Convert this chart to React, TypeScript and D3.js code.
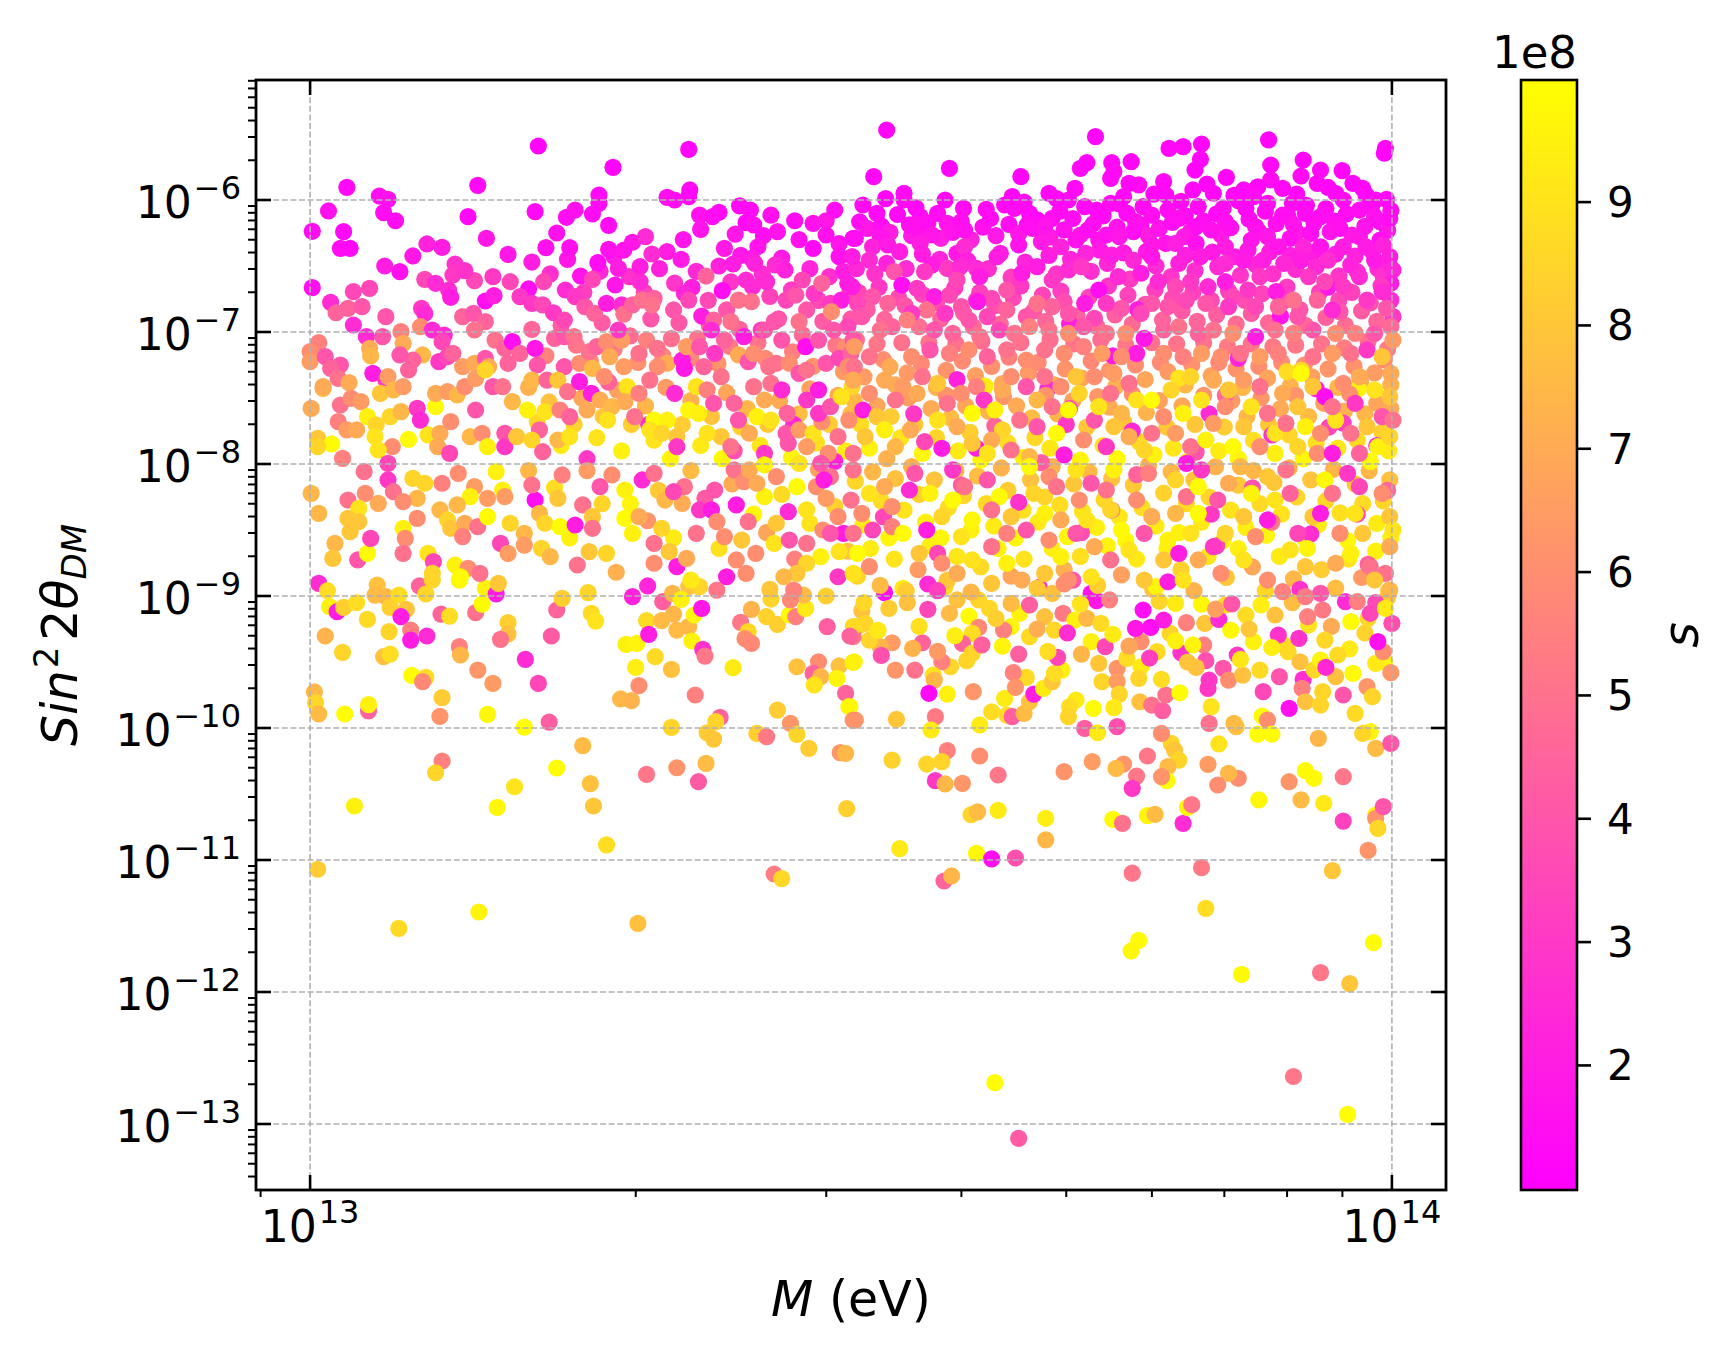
import * as d3 from "d3";

// every point: [log10 M (eV), log10 sin^2(2θ), s / 1e8]
const upperLeft = [
  [13.211,-5.591,1.2],[13.350,-5.616,1.2],[13.280,-5.753,1.2],[13.034,-5.904,1.3],[13.155,-5.889,1.3],[13.064,-5.970,1.5],[13.072,-5.995,1.6],[13.068,-6.096,1.4],
  [13.079,-6.157,1.5],[13.017,-6.083,1.6],[13.002,-6.237,1.4],[13.031,-6.240,1.3],[13.028,-6.366,1.4],[13.037,-6.366,1.3],[13.146,-6.126,1.3],[13.208,-6.088,1.3],
  [13.237,-6.131,1.5],[13.245,-6.076,1.6],[13.261,-6.106,1.4],[13.267,-5.962,1.3],[13.267,-6.025,1.4],[13.276,-6.192,1.5],[13.330,-5.980,1.6],[13.337,-6.000,1.5],
  [13.351,-5.924,1.4],[13.350,-5.975,1.3],[13.360,-6.114,1.6],[13.361,-6.222,1.7],[13.372,-6.126,1.5],[13.378,-6.093,1.4],[13.397,-6.045,1.3],[13.407,-6.076,1.4],
  [13.426,-6.114,1.6],[13.403,-6.172,1.3],[13.410,-6.189,1.5],[13.432,-6.240,1.7],[13.448,-6.157,1.4],[13.465,-6.177,1.6],[13.477,-6.157,1.8],[13.485,-6.076,1.5],
  [13.477,-6.265,1.6],[13.502,-6.290,1.5],[13.393,-6.258,1.8],[13.383,-6.366,1.9],[13.465,-6.366,1.3],[13.414,-6.354,1.7],[13.408,-6.442,1.9],[13.489,-6.429,1.6],
  [13.493,-6.543,2.1],[13.163,-6.290,1.8],[13.183,-6.412,1.8],[13.218,-6.361,1.6],[13.240,-6.361,1.6],[13.108,-6.333,2.2],[13.122,-6.359,2.0],[13.095,-6.424,1.8],
  [13.069,-6.500,2.0],[13.083,-6.543,1.6],[13.002,-6.664,1.5],[13.276,-6.374,1.6],[13.290,-6.379,1.7],[13.266,-6.475,1.4],[13.285,-6.518,2.0],[13.282,-6.644,1.8],
  [13.310,-6.278,2.5],[13.330,-6.391,2.0],[13.316,-6.409,2.5],[13.305,-6.505,2.0],[13.305,-6.619,2.5],[13.366,-6.576,4.5],[13.391,-6.485,2.0],[13.430,-6.492,2.5],
  [13.439,-6.530,2.2],[13.422,-6.619,2.5],[13.455,-6.606,3.5],[13.497,-6.631,2.0],[13.353,-6.662,2.0],[13.346,-6.707,2.3],[13.381,-6.687,1.5],[13.403,-6.606,2.5],
  [13.409,-6.657,2.5],[13.411,-6.480,2.2],[13.250,-6.576,1.7],[13.261,-6.601,3.5],[13.202,-6.674,1.5],[13.216,-6.619,3.5],[13.236,-6.682,2.5],[13.245,-6.732,3.0],
  [13.185,-6.619,3.5],[13.169,-6.581,3.0],[13.152,-6.611,3.5],[13.134,-6.485,2.8],[13.132,-6.568,3.0],[13.143,-6.535,2.8],[13.106,-6.601,3.5],[13.116,-6.631,2.5],
  [13.128,-6.682,2.5],[13.130,-6.737,2.0],[13.162,-6.765,1.5],[13.170,-6.725,2.0],[13.040,-6.694,3.5],[13.055,-6.669,3.5],[13.019,-6.775,2.5],[13.035,-6.821,4.5],
  [13.048,-6.808,4.0],[13.024,-6.854,4.5],[13.040,-6.947,2.5],[13.070,-6.884,4.0],[13.103,-6.821,3.0],[13.106,-6.859,2.5],[13.141,-6.884,4.5],[13.151,-6.859,4.0],
  [13.162,-6.922,4.5],[13.152,-6.985,5.0],[13.194,-6.732,3.0],[13.205,-6.783,3.0],[13.215,-6.795,3.5],[13.225,-6.854,3.0],[13.235,-6.909,3.5],[13.254,-6.808,4.0],
  [13.263,-6.859,4.5],[13.274,-6.783,2.0],[13.288,-6.795,2.5],[13.290,-6.864,5.0],[13.298,-6.795,4.5],[13.307,-6.758,5.0],[13.318,-6.745,4.5],[13.316,-6.795,5.0],
  [13.336,-6.833,4.0],[13.350,-6.758,3.5],[13.362,-6.879,2.0],[13.373,-6.909,4.5],[13.385,-6.833,4.0],[13.396,-6.758,5.0],[13.408,-6.770,5.0],[13.389,-6.922,5.0],
  [13.440,-6.758,3.5],[13.449,-6.720,4.0],[13.459,-6.833,4.0],[13.466,-6.707,3.0],[13.473,-6.631,4.5],[13.481,-6.783,3.0],[13.491,-6.758,2.0],[13.482,-6.846,6.0],
  [13.452,-6.922,5.0],[13.429,-6.922,4.0],[13.417,-6.985,3.0],[13.497,-6.960,3.5],[13.484,-6.985,4.0],[13.458,-7.111,1.5],[13.470,-7.061,4.0],[13.495,-7.111,6.0],
  [13.502,-7.061,4.0],[13.008,-7.081,5.5],[13.000,-7.149,6.0],[13.000,-7.225,6.5],[13.014,-7.187,4.0],[13.028,-7.250,4.0],[13.019,-7.275,4.5],[13.026,-7.351,5.0],
  [13.036,-7.384,7.0],[13.012,-7.427,7.5],[13.052,-7.035,2.5],[13.067,-7.035,4.0],[13.055,-7.124,7.0],[13.056,-7.182,7.5],[13.084,-6.997,5.5],[13.086,-7.086,7.0],
  [13.102,-6.960,6.0],[13.113,-6.985,2.5],[13.124,-7.023,2.5],[13.122,-7.073,3.5],[13.104,-7.174,7.5],[13.095,-7.212,4.5],[13.083,-7.174,4.0],[13.091,-7.288,4.5],
  [13.058,-7.313,2.0],[13.070,-7.364,3.0],[13.119,-7.225,3.0],[13.127,-7.187,3.5],[13.132,-7.162,4.5],[13.141,-7.263,6.5],[13.152,-7.237,7.0],[13.162,-7.199,4.0],
  [13.165,-7.263,7.0],[13.171,-7.061,5.0],[13.180,-7.124,4.5],[13.187,-7.073,1.5],[13.194,-7.162,4.5],[13.183,-7.237,4.5],[13.208,-7.124,1.8],[13.210,-7.250,4.0],
  [13.226,-7.048,4.5],[13.235,-7.035,4.0],[13.244,-7.035,5.0],[13.235,-7.263,4.0],[13.249,-7.237,6.0],[13.258,-7.149,5.0],[13.265,-7.111,4.5],[13.274,-7.073,6.0],
  [13.288,-7.061,6.5],[13.285,-6.985,3.0],[13.277,-7.187,7.0],[13.290,-7.263,6.5],[13.261,-7.275,7.5],[13.272,-7.338,6.0],[13.304,-7.162,5.0],[13.311,-7.061,5.5],
  [13.321,-7.124,5.0],[13.330,-7.237,7.0],[13.321,-7.263,6.0],[13.314,-7.364,5.0],[13.344,-7.212,2.0],[13.348,-7.111,6.5],[13.346,-7.275,1.8],[13.360,-7.111,4.0],
  [13.364,-7.263,4.5],[13.371,-6.985,2.5],[13.374,-7.162,3.0],[13.383,-7.061,4.5],[13.396,-7.174,7.0],[13.405,-7.225,4.0],[13.401,-7.035,2.0],[13.410,-7.162,6.0],
  [13.424,-7.263,5.0],[13.420,-6.985,4.0],[13.436,-7.061,4.0],[13.431,-7.237,5.0],[13.443,-7.237,6.0],[13.452,-7.313,4.0],[13.459,-7.288,5.0],[13.477,-7.237,4.0],
  [13.489,-7.199,3.5],[13.500,-7.162,4.5],[13.497,-7.263,6.0],
  [13.001,-7.578,7.0],[13.012,-7.414,7.0],[13.028,-7.553,5.0],[13.038,-7.503,6.0],[13.047,-7.528,6.5],[13.026,-7.679,5.5],[13.034,-7.742,6.5],[13.043,-7.742,7.0],
  [13.007,-7.806,8.0],[13.020,-7.848,9.8],[13.007,-7.869,8.5],[13.030,-7.957,5.5],[13.053,-7.641,9.5],[13.061,-7.704,8.5],[13.060,-7.793,9.0],[13.065,-7.465,8.0],
  [13.072,-7.338,6.5],[13.077,-7.439,7.5],[13.086,-7.414,6.5],[13.074,-7.641,8.5],[13.084,-7.603,7.5],[13.091,-7.813,9.8],[13.099,-7.578,3.0],[13.102,-7.667,2.5],
  [13.116,-7.566,9.8],[13.109,-7.780,9.0],[13.120,-7.767,7.0],[13.130,-7.679,6.0],[13.118,-7.869,7.0],[13.129,-7.919,3.5],[13.076,-7.869,6.0],[13.063,-7.894,9.0],
  [13.116,-7.465,7.0],[13.127,-7.452,6.5],[13.136,-7.477,7.5],[13.143,-7.414,6.0],[13.153,-7.351,6.5],[13.162,-7.288,8.5],[13.169,-7.414,4.0],[13.178,-7.414,5.0],
  [13.153,-7.591,4.0],[13.148,-7.793,7.5],[13.159,-7.767,6.0],[13.164,-7.869,9.5],[13.180,-7.767,4.0],[13.180,-7.869,3.0],[13.191,-7.793,8.0],[13.187,-7.528,7.5],
  [13.201,-7.591,9.5],[13.205,-7.364,7.5],[13.217,-7.603,9.0],[13.219,-7.364,4.5],[13.229,-7.364,8.0],[13.238,-7.452,5.0],[13.231,-7.591,5.5],[13.240,-7.641,4.5],
  [13.212,-7.742,4.5],[13.205,-7.818,8.5],[13.215,-7.907,4.5],[13.229,-7.818,7.5],[13.240,-7.793,9.0],[13.249,-7.376,2.0],[13.260,-7.465,2.0],[13.256,-7.591,7.0],
  [13.268,-7.515,7.0],[13.279,-7.566,7.5],[13.275,-7.667,9.0],[13.293,-7.414,9.0],[13.291,-7.528,7.0],[13.304,-7.465,5.5],[13.300,-7.641,5.0],[13.318,-7.667,9.8],
  [13.330,-7.667,9.5],[13.314,-7.742,9.0],[13.325,-7.767,8.5],[13.339,-7.793,8.0],[13.339,-7.869,3.0],[13.337,-7.465,2.5],[13.350,-7.591,9.7],[13.359,-7.616,9.5],
  [13.357,-7.414,9.0],[13.367,-7.439,5.5],[13.380,-7.338,5.0],[13.373,-7.540,4.0],[13.392,-7.540,4.5],[13.396,-7.667,4.0],[13.380,-7.793,8.0],[13.367,-7.767,9.0],
  [13.389,-7.869,5.0],[13.406,-7.767,7.0],[13.413,-7.641,9.5],[13.420,-7.515,7.0],[13.410,-7.414,5.0],[13.426,-7.389,5.0],[13.436,-7.439,2.5],[13.441,-7.616,4.5],
  [13.426,-7.667,9.0],[13.440,-7.767,4.0],[13.452,-7.742,6.5],[13.465,-7.767,9.0],[13.473,-7.679,6.0],[13.459,-7.515,3.0],[13.470,-7.439,2.0],[13.470,-7.616,3.0],
  [13.481,-7.566,4.0],[13.491,-7.490,9.0],[13.498,-7.667,6.0],[13.502,-7.364,7.0],[13.488,-7.793,5.0],[13.479,-7.919,6.0],[13.459,-7.869,6.5],[13.442,-7.843,4.0],
  [13.420,-7.919,3.0],[13.452,-7.995,9.0],[13.472,-7.995,4.0],
  [13.001,-8.222,7.5],[13.008,-8.374,7.5],[13.050,-8.058,5.0],[13.072,-7.995,3.5],[13.072,-8.121,3.0],[13.077,-8.210,5.0],[13.095,-8.109,8.5],[13.106,-8.146,8.5],
  [13.122,-8.146,5.5],[13.137,-8.071,6.0],[13.152,-8.172,6.5],[13.172,-8.058,9.5],[13.178,-8.197,9.5],[13.180,-8.247,6.5],[13.164,-8.260,6.5],[13.148,-8.247,9.5],
  [13.136,-8.310,7.5],[13.120,-8.348,7.5],[13.099,-8.260,7.5],[13.086,-8.285,6.0],[13.063,-8.298,7.0],[13.051,-8.222,6.0],[13.035,-8.273,5.0],[13.045,-8.336,9.0],
  [13.035,-8.412,8.0],[13.045,-8.437,8.0],[13.037,-8.513,8.0],[13.023,-8.601,7.5],[13.021,-8.715,8.0],[13.044,-8.727,4.0],[13.053,-8.677,9.8],[13.056,-8.563,3.5],
  [13.086,-8.487,9.5],[13.088,-8.563,6.0],[13.086,-8.677,5.0],[13.099,-8.412,6.0],[13.109,-8.677,9.0],[13.114,-8.740,3.5],[13.113,-8.828,8.5],[13.127,-8.424,8.5],
  [13.130,-8.487,8.0],[13.143,-8.449,7.0],[13.155,-8.475,5.0],[13.141,-8.550,5.5],[13.134,-8.765,9.5],[13.146,-8.790,6.0],[13.157,-8.828,5.0],[13.139,-8.854,9.8],
  [13.164,-8.399,9.8],[13.176,-8.601,3.5],[13.183,-8.677,6.5],[13.185,-8.449,8.5],[13.198,-8.525,7.5],[13.198,-8.614,6.5],[13.208,-8.273,1.5],[13.212,-8.374,7.5],
  [13.217,-8.449,8.5],[13.229,-8.260,8.0],[13.233,-8.083,5.5],[13.205,-8.159,5.0],[13.214,-8.639,8.5],[13.222,-8.702,7.5],[13.231,-8.475,9.8],[13.245,-8.462,2.0],
  [13.252,-8.310,5.0],[13.261,-8.399,8.0],[13.261,-8.487,5.0],[13.247,-8.765,5.0],[13.258,-8.664,8.0],[13.274,-8.677,8.5],[13.268,-8.172,4.0],[13.279,-8.083,6.0],
  [13.291,-8.197,9.5],[13.291,-8.412,9.8],[13.298,-8.525,9.5],[13.304,-8.399,7.0],[13.307,-8.121,2.5],[13.318,-8.071,5.0],[13.318,-8.601,5.0],[13.325,-8.487,8.5],
  [13.332,-8.664,8.0],[13.318,-8.752,6.0],[13.328,-8.273,7.5],[13.344,-8.298,7.0],[13.346,-8.172,5.0],[13.336,-8.210,3.5],[13.339,-8.778,2.0],[13.348,-8.715,7.0],
  [13.357,-8.525,5.0],[13.360,-8.348,3.0],[13.371,-8.348,2.0],[13.374,-8.197,4.0],[13.376,-8.437,6.0],[13.383,-8.550,6.0],[13.394,-8.310,2.0],[13.399,-8.576,8.0],
  [13.405,-8.437,5.0],[13.412,-8.677,6.0],[13.394,-8.727,6.0],[13.403,-8.828,6.0],[13.385,-8.854,2.0],[13.392,-8.045,5.0],[13.401,-8.134,6.0],[13.406,-8.045,7.0],
  [13.420,-8.007,9.5],[13.420,-8.247,9.5],[13.413,-8.146,7.0],[13.431,-8.096,6.0],[13.442,-8.361,2.5],[13.431,-8.449,8.0],[13.429,-8.601,9.0],[13.443,-8.576,4.0],
  [13.459,-8.601,5.0],[13.459,-8.348,9.0],[13.450,-8.172,9.8],[13.468,-8.172,6.0],[13.481,-8.096,5.0],[13.475,-8.121,2.0],[13.477,-8.260,6.5],[13.488,-8.399,6.0],
  [13.474,-8.500,6.0],[13.493,-8.525,2.0],[13.481,-8.525,4.0],[13.472,-8.702,9.5],[13.489,-8.664,9.0],[13.459,-8.752,8.5],[13.450,-8.828,8.0],[13.438,-8.854,7.5],
  [13.488,-8.854,3.0],[13.502,-8.828,9.0],[13.500,-8.273,5.0],[13.502,-8.525,5.0],
];

const upperRight = [
  [13.533,-5.470,1.2],[13.726,-5.520,1.2],[13.886,-5.545,1.2],[13.794,-5.609,1.2],[13.807,-5.596,1.3],[13.824,-5.576,1.2],[13.994,-5.609,1.3],[13.993,-5.646,1.2],
  [13.521,-5.823,1.3],[13.591,-5.760,1.2],[13.657,-5.823,1.2],[13.712,-5.760,1.3],[13.718,-5.717,1.2],[13.741,-5.717,1.3],[13.759,-5.710,1.2],[13.743,-5.785,1.4],
  [13.740,-5.836,1.3],[13.766,-5.886,1.4],[13.757,-5.874,1.2],[13.823,-5.692,1.3],[13.818,-5.773,1.2],[13.888,-5.735,1.3],[13.918,-5.697,1.2],[13.934,-5.773,1.3],
  [13.954,-5.778,1.2],[13.916,-5.818,1.4],[13.931,-5.874,1.3],[13.847,-5.828,1.2],[13.888,-5.848,1.4],[13.789,-5.861,1.3],[13.549,-5.949,1.3],[13.549,-6.000,1.4],
  [13.511,-6.038,1.4],[13.524,-6.101,1.3],[13.504,-6.290,1.5],[13.587,-6.000,1.3],[13.604,-6.063,1.4],[13.564,-6.126,1.5],[13.554,-6.189,1.6],[13.580,-6.101,1.4],
  [13.589,-6.177,1.7],[13.602,-6.164,1.5],[13.605,-6.227,1.6],[13.575,-6.265,1.8],[13.564,-6.328,2.0],[13.527,-6.278,1.7],[13.520,-6.354,2.2],[13.534,-6.341,1.9],
  [13.598,-6.404,1.8],[13.605,-6.354,2.5],[13.642,-6.038,1.3],[13.651,-6.063,1.4],[13.665,-6.101,1.3],[13.649,-5.975,1.2],[13.663,-6.189,1.5],[13.683,-5.949,1.3],
  [13.701,-6.000,1.4],[13.707,-5.912,1.3],[13.686,-6.139,1.5],[13.679,-6.202,1.7],[13.697,-6.227,1.6],[13.719,-6.227,1.5],[13.727,-6.076,1.3],[13.740,-6.025,1.4],
  [13.752,-5.975,1.3],[13.770,-6.050,1.4],[13.778,-6.114,1.5],[13.763,-6.164,1.6],[13.761,-6.240,1.5],[13.736,-6.265,1.7],[13.748,-6.278,1.8],[13.729,-6.303,1.6],
  [13.791,-5.962,1.3],[13.793,-6.076,1.4],[13.803,-6.139,1.5],[13.816,-5.924,1.3],[13.821,-6.050,1.4],[13.835,-5.949,1.3],[13.844,-6.063,1.5],[13.863,-5.924,1.3],
  [13.872,-5.975,1.4],[13.865,-6.063,1.3],[13.885,-6.025,1.5],[13.899,-5.912,1.3],[13.908,-6.025,1.4],[13.948,-5.949,1.3],[13.955,-6.000,1.4],[13.964,-5.874,1.2],
  [13.973,-5.912,1.3],[13.985,-6.000,1.4],[13.970,-6.076,1.5],[13.984,-6.126,1.6],[13.998,-6.139,1.4],[13.934,-6.126,1.5],[13.920,-6.101,1.4],[13.909,-6.189,1.7],
  [13.899,-6.114,1.5],[13.874,-6.202,1.6],[13.885,-6.278,1.8],[13.870,-6.303,1.7],[13.846,-6.164,1.5],[13.833,-6.227,1.6],[13.819,-6.202,1.5],[13.808,-6.278,1.9],
  [13.791,-6.328,1.7],[13.800,-6.328,2.1],[13.778,-6.341,1.8],[13.819,-6.328,1.6],[13.846,-6.354,2.0],[13.867,-6.379,1.8],[13.906,-6.290,1.6],[13.925,-6.253,1.5],
  [13.943,-6.240,1.7],[13.952,-6.215,1.6],[13.970,-6.278,1.8],[13.989,-6.303,1.5],[13.992,-6.341,2.2],[13.976,-6.354,1.9],[13.955,-6.354,2.0],[13.934,-6.354,1.7],
  [13.918,-6.354,2.3],[13.895,-6.354,1.8],[13.638,-6.404,2.0],[13.655,-6.341,1.7],[13.676,-6.316,1.9],[13.694,-6.354,2.2],[13.708,-6.303,1.6],[13.717,-6.404,2.3],
  [13.741,-6.417,2.0],[13.761,-6.455,2.4],[13.778,-6.429,1.8],[13.803,-6.480,2.2],[13.823,-6.429,2.0],[13.846,-6.480,2.5],[13.863,-6.455,1.9],[13.881,-6.455,2.1],
  [13.900,-6.480,2.4],[13.916,-6.455,2.0],[13.941,-6.455,2.6],[13.962,-6.492,2.2],[13.984,-6.455,1.9],[13.998,-6.429,2.0],[14.001,-6.530,2.3],[13.999,-6.631,2.0],
  [13.999,-6.758,2.5],[14.001,-6.884,3.0],[13.501,-6.429,2.0],[13.501,-6.657,2.0],[13.517,-6.455,2.5],[13.545,-6.391,2.0],[13.540,-6.543,4.0],[13.547,-6.644,1.5],
  [13.561,-6.669,3.0],[13.575,-6.492,2.0],[13.568,-6.543,3.0],[13.589,-6.518,3.0],[13.601,-6.505,2.5],[13.616,-6.518,2.5],[13.619,-6.581,2.0],[13.598,-6.606,3.5],
  [13.577,-6.732,2.0],[13.591,-6.720,3.5],[13.602,-6.808,4.0],[13.616,-6.758,3.0],[13.630,-6.745,3.5],[13.644,-6.682,4.0],[13.658,-6.555,2.0],[13.672,-6.505,2.0],
  [13.686,-6.606,3.0],[13.701,-6.530,2.5],[13.713,-6.505,3.0],[13.729,-6.682,1.5],[13.716,-6.783,2.0],[13.747,-6.581,2.5],[13.768,-6.555,2.0],[13.784,-6.619,2.5],
  [13.800,-6.657,3.5],[13.814,-6.619,3.0],[13.830,-6.657,2.5],[13.846,-6.619,2.0],[13.853,-6.732,3.5],[13.867,-6.682,3.0],[13.878,-6.581,3.0],[13.893,-6.694,2.0],
  [13.909,-6.758,5.0],[13.923,-6.581,3.0],[13.938,-6.619,3.5],[13.955,-6.657,3.0],[13.970,-6.581,2.5],[13.977,-6.758,3.0],[13.991,-6.694,2.5],[13.952,-6.846,4.0],
  [13.945,-6.833,2.5],[13.931,-6.758,4.5],[13.913,-6.884,4.0],[13.895,-6.808,4.5],[13.874,-6.808,3.5],[13.849,-6.808,3.0],[13.828,-6.783,4.0],[13.810,-6.758,3.5],
  [13.793,-6.808,4.0],[13.778,-6.783,4.0],[13.768,-6.859,3.5],[13.750,-6.821,4.0],[13.736,-6.783,3.0],[13.725,-6.896,3.5],[13.701,-6.859,4.0],[13.686,-6.808,4.5],
  [13.672,-6.783,5.0],[13.662,-6.884,4.0],[13.644,-6.833,4.5],[13.626,-6.884,3.5],[13.609,-6.909,4.0],[13.587,-6.859,3.0],[13.570,-6.833,5.0],[13.556,-6.859,3.0],
  [13.534,-6.783,4.5],[13.520,-6.732,4.0],[13.506,-6.783,3.5],[13.510,-6.884,4.0],[13.538,-6.960,4.5],[13.527,-6.985,5.0],[13.552,-6.909,5.5],[13.577,-6.985,4.0],
  [13.594,-7.010,4.5],[13.619,-7.035,5.0],[13.637,-6.985,3.5],[13.651,-7.010,5.0],[13.665,-6.960,5.5],[13.683,-6.985,5.0],[13.701,-7.010,6.0],[13.715,-6.960,4.0],
  [13.736,-7.010,5.0],[13.754,-7.010,6.0],[13.771,-7.048,1.8],[13.789,-6.985,4.5],[13.803,-6.960,5.0],[13.821,-7.010,4.5],[13.835,-6.985,5.0],[13.853,-7.010,6.0],
  [13.874,-7.035,2.0],[13.892,-6.985,5.0],[13.909,-7.010,5.5],[13.927,-6.985,4.0],[13.948,-7.010,6.0],[13.966,-7.010,5.5],[13.984,-7.010,4.0],[14.001,-7.061,6.5],
  [13.977,-7.136,3.0],[13.991,-7.187,8.0],[13.962,-7.162,5.0],[13.945,-7.162,6.5],[13.927,-7.187,5.0],[13.916,-7.288,8.5],[13.895,-7.162,5.5],[13.878,-7.187,6.5],
  [13.860,-7.162,5.0],[13.842,-7.187,6.0],[13.824,-7.162,6.5],[13.807,-7.187,5.5],[13.789,-7.162,6.0],[13.764,-7.162,2.0],[13.750,-7.187,6.0],[13.732,-7.162,6.5],
  [13.715,-7.111,5.5],[13.697,-7.162,6.0],[13.679,-7.136,5.0],[13.662,-7.212,6.0],[13.644,-7.136,5.0],[13.626,-7.187,4.5],[13.609,-7.136,6.0],[13.591,-7.162,5.5],
  [13.573,-7.136,4.0],[13.556,-7.187,6.0],[13.536,-7.263,7.0],[13.517,-7.187,5.0],[13.503,-7.111,6.5],[13.503,-7.263,5.0],
  [13.501,-7.414,8.5],[13.511,-7.591,2.0],[13.524,-7.641,8.0],[13.517,-7.465,6.0],[13.531,-7.364,7.0],[13.548,-7.414,6.5],[13.541,-7.515,5.0],[13.561,-7.465,7.0],
  [13.566,-7.338,5.0],[13.580,-7.389,8.0],[13.589,-7.540,5.0],[13.580,-7.667,9.0],[13.568,-7.831,3.5],[13.584,-7.881,2.0],[13.555,-7.742,7.0],[13.541,-7.869,7.5],
  [13.502,-7.919,5.0],[13.513,-7.793,8.0],[13.531,-7.742,9.5],[13.598,-7.717,7.0],[13.612,-7.616,9.8],[13.602,-7.465,6.0],[13.616,-7.414,5.5],[13.623,-7.515,3.0],
  [13.633,-7.591,9.5],[13.640,-7.439,7.0],[13.648,-7.338,6.0],[13.662,-7.414,4.0],[13.672,-7.515,7.5],[13.656,-7.667,5.0],[13.640,-7.742,8.5],[13.630,-7.818,7.0],
  [13.612,-7.843,8.0],[13.626,-7.919,9.0],[13.648,-7.894,5.0],[13.665,-7.944,7.5],[13.672,-7.717,4.0],[13.686,-7.566,5.0],[13.679,-7.338,5.0],[13.694,-7.414,6.0],
  [13.708,-7.338,8.0],[13.711,-7.465,8.5],[13.701,-7.591,9.8],[13.690,-7.767,9.8],[13.697,-7.931,2.0],[13.715,-7.818,6.0],[13.725,-7.667,4.0],[13.729,-7.566,9.0],
  [13.740,-7.465,5.0],[13.725,-7.338,6.0],[13.743,-7.313,6.5],[13.757,-7.389,5.0],[13.764,-7.515,9.0],[13.750,-7.616,7.5],[13.743,-7.717,8.0],[13.736,-7.869,3.0],
  [13.757,-7.793,7.0],[13.771,-7.894,8.5],[13.778,-7.767,5.0],[13.789,-7.641,6.0],[13.778,-7.515,9.9],[13.796,-7.439,8.5],[13.814,-7.338,8.5],[13.824,-7.515,9.0],
  [13.807,-7.616,9.5],[13.800,-7.767,6.5],[13.814,-7.869,5.0],[13.828,-7.818,9.5],[13.835,-7.692,6.5],[13.846,-7.566,6.0],[13.849,-7.439,8.0],[13.835,-7.364,7.0],
  [13.863,-7.364,6.5],[13.878,-7.414,5.0],[13.870,-7.566,9.0],[13.863,-7.717,8.0],[13.853,-7.869,9.8],[13.878,-7.869,6.0],[13.892,-7.767,9.0],[13.885,-7.616,5.0],
  [13.899,-7.465,7.0],[13.916,-7.313,9.8],[13.927,-7.414,8.0],[13.938,-7.490,1.5],[13.913,-7.566,8.0],[13.902,-7.692,5.0],[13.920,-7.717,9.5],[13.934,-7.767,6.0],
  [13.913,-7.869,8.5],[13.931,-7.919,6.0],[13.945,-7.919,2.0],[13.948,-7.667,9.0],[13.945,-7.566,5.0],[13.955,-7.389,6.0],[13.966,-7.540,3.0],[13.977,-7.717,8.0],
  [13.962,-7.767,5.0],[13.970,-7.919,4.5],[13.987,-7.869,9.5],[13.991,-7.641,4.0],[13.998,-7.490,8.0],[13.984,-7.439,9.0],[13.970,-7.338,7.0],[13.998,-7.793,8.5],
  [14.001,-7.667,5.0],[13.999,-7.313,7.0],
  [13.502,-8.045,5.0],[13.517,-8.222,9.0],[13.510,-8.374,6.0],[13.531,-8.172,7.0],[13.554,-8.197,2.5],[13.559,-8.071,4.0],[13.538,-8.323,6.0],[13.520,-8.500,3.5],
  [13.506,-8.677,9.8],[13.517,-8.778,6.0],[13.538,-8.475,5.5],[13.548,-8.525,9.8],[13.563,-8.677,8.0],[13.570,-8.500,2.0],[13.580,-8.677,3.5],[13.584,-8.752,6.0],
  [13.573,-8.222,9.5],[13.584,-8.399,8.5],[13.594,-8.045,3.0],[13.605,-8.172,5.0],[13.594,-8.273,9.8],[13.612,-8.424,9.7],[13.602,-8.550,9.0],[13.612,-8.727,9.0],
  [13.598,-8.828,7.0],[13.626,-8.121,4.0],[13.637,-8.247,9.8],[13.630,-8.348,5.0],[13.648,-8.399,8.0],[13.644,-8.525,5.5],[13.630,-8.626,5.0],[13.644,-8.752,9.5],
  [13.658,-8.879,7.0],[13.662,-8.500,4.0],[13.669,-8.222,8.5],[13.665,-8.020,9.8],[13.683,-8.096,6.0],[13.690,-8.172,5.0],[13.679,-8.374,9.5],[13.694,-8.424,7.0],
  [13.683,-8.576,6.0],[13.694,-8.702,9.5],[13.679,-8.828,8.0],[13.708,-8.525,4.0],[13.718,-8.424,9.0],[13.711,-8.273,6.0],[13.722,-8.146,4.0],[13.708,-8.045,9.0],
  [13.743,-8.045,9.5],[13.736,-8.197,5.0],[13.740,-8.348,8.5],[13.725,-8.626,7.0],[13.740,-8.727,5.0],[13.750,-8.500,9.8],[13.757,-8.651,9.0],[13.764,-8.273,6.0],
  [13.775,-8.071,5.5],[13.771,-8.525,4.0],[13.778,-8.399,7.0],[13.793,-8.576,9.5],[13.789,-8.727,8.0],[13.803,-8.677,2.0],[13.800,-8.374,7.5],[13.810,-8.247,5.0],
  [13.800,-8.121,8.5],[13.810,-7.995,2.0],[13.824,-8.045,3.0],[13.821,-8.172,9.8],[13.821,-8.374,9.8],[13.814,-8.525,9.0],[13.821,-8.727,7.0],[13.835,-8.626,3.0],
  [13.846,-8.525,8.5],[13.839,-8.273,4.0],[13.849,-8.146,7.0],[13.860,-8.020,7.5],[13.870,-8.222,9.5],[13.863,-8.399,8.0],[13.874,-8.550,6.0],[13.863,-8.727,9.0],
  [13.885,-8.424,2.0],[13.892,-8.273,9.0],[13.885,-8.096,8.0],[13.902,-8.045,5.0],[13.906,-8.222,4.5],[13.913,-8.525,3.5],[13.906,-8.651,9.0],[13.920,-8.778,8.0],
  [13.927,-8.399,8.0],[13.934,-8.374,2.0],[13.938,-8.121,9.7],[13.945,-8.222,5.0],[13.952,-8.525,6.0],[13.959,-8.071,3.0],[13.970,-8.172,3.5],[13.966,-8.374,9.0],
  [13.973,-8.525,8.0],[13.962,-8.677,9.5],[13.948,-8.752,7.0],[13.980,-8.778,5.0],[13.991,-8.222,6.0],[13.998,-8.399,8.0],[14.001,-8.500,9.0],[13.998,-8.626,7.0],
  [13.994,-8.828,5.0],[13.984,-8.879,8.0],[13.885,-8.879,6.0],[13.842,-8.828,6.0],[13.807,-8.879,9.0],[13.771,-8.879,8.0],[13.722,-8.854,9.0],[13.701,-8.879,6.0],
  [13.630,-8.904,8.0],
];

// more points in the crowded right half, where the markers overlap heavily
const crowdTop = [
  [13.508,-6.165,1.5],[13.515,-6.215,1.8],[13.528,-6.195,1.4],[13.536,-6.245,2.0],[13.543,-6.110,1.3],[13.556,-6.270,1.9],[13.562,-6.230,1.6],[13.571,-6.175,1.4],
  [13.583,-6.290,2.1],[13.594,-6.245,1.7],[13.611,-6.300,2.2],[13.622,-6.205,1.6],[13.629,-6.140,1.4],[13.634,-6.270,1.9],[13.646,-6.185,1.5],[13.655,-6.255,1.8],
  [13.668,-6.215,1.6],[13.672,-6.150,1.3],[13.684,-6.280,2.0],[13.693,-6.085,1.4],[13.705,-6.140,1.5],[13.712,-6.265,1.9],[13.724,-6.180,1.6],[13.733,-6.120,1.4],
  [13.746,-6.205,1.7],[13.755,-6.100,1.3],[13.768,-6.190,1.6],[13.775,-6.270,2.0],[13.785,-6.215,1.7],[13.797,-6.170,1.5],[13.809,-6.120,1.4],[13.814,-6.235,1.8],
  [13.826,-6.160,1.5],[13.838,-6.105,1.3],[13.842,-6.265,1.9],[13.851,-6.210,1.6],[13.858,-6.005,1.3],[13.868,-6.145,1.5],[13.877,-6.240,1.8],[13.883,-6.085,1.4],
  [13.893,-6.180,1.6],[13.904,-6.125,1.5],[13.912,-6.245,1.9],[13.921,-6.040,1.3],[13.928,-6.175,1.6],[13.939,-6.065,1.4],[13.947,-6.160,1.5],[13.958,-6.105,1.4],
  [13.963,-6.265,1.9],[13.975,-6.200,1.7],[13.981,-6.055,1.3],[13.989,-6.165,1.5],[13.996,-6.230,1.8],[13.999,-6.080,1.4],[13.995,-5.995,1.3],[13.976,-5.960,1.3],
  [13.941,-5.905,1.2],[13.912,-5.955,1.3],[13.876,-5.900,1.2],[13.854,-5.965,1.3],[13.829,-5.880,1.2],[13.805,-6.010,1.4],[13.780,-5.955,1.3],[13.748,-6.030,1.4],
  [13.716,-6.050,1.3],[13.690,-5.990,1.3],[13.660,-6.015,1.4],[13.625,-6.070,1.4],[13.560,-6.060,1.3],[13.532,-5.990,1.2],
  [13.505,-6.520,2.4],[13.522,-6.560,2.8],[13.533,-6.480,2.2],[13.551,-6.520,2.5],[13.566,-6.410,2.0],[13.582,-6.450,2.3],[13.597,-6.560,3.0],[13.608,-6.460,2.2],
  [13.627,-6.520,2.6],[13.635,-6.430,2.0],[13.648,-6.585,3.2],[13.661,-6.470,2.3],[13.683,-6.420,2.1],[13.690,-6.560,2.9],[13.703,-6.450,2.3],[13.722,-6.540,2.7],
  [13.730,-6.380,1.9],[13.737,-6.480,2.4],[13.752,-6.400,2.0],[13.758,-6.600,3.1],[13.773,-6.390,1.9],[13.782,-6.500,2.5],[13.796,-6.580,2.9],[13.809,-6.420,2.1],
  [13.818,-6.535,2.6],[13.834,-6.395,1.9],[13.839,-6.505,2.5],[13.855,-6.430,2.1],[13.860,-6.570,2.9],[13.874,-6.490,2.4],[13.887,-6.395,2.0],[13.890,-6.560,2.8],
  [13.906,-6.420,2.1],[13.911,-6.525,2.6],[13.927,-6.400,2.0],[13.930,-6.505,2.4],[13.948,-6.410,2.1],[13.951,-6.575,2.9],[13.966,-6.425,2.2],[13.968,-6.545,2.7],
  [13.982,-6.390,1.9],[13.987,-6.520,2.5],[13.997,-6.470,2.3],[13.992,-6.580,2.8],
  [13.507,-6.700,3.5],[13.515,-6.830,4.2],[13.526,-6.660,3.0],[13.531,-6.905,4.6],[13.544,-6.740,3.6],[13.550,-6.800,4.0],[13.563,-6.960,4.9],[13.566,-6.715,3.4],
  [13.579,-6.780,3.8],[13.583,-6.900,4.5],[13.596,-6.665,3.1],[13.604,-6.855,4.3],[13.613,-6.960,4.8],[13.619,-6.700,3.3],[13.633,-6.800,3.9],[13.638,-6.940,4.7],
  [13.650,-6.740,3.5],[13.657,-6.650,3.0],[13.669,-6.840,4.2],[13.677,-6.720,3.4],[13.680,-6.920,4.6],[13.694,-6.690,3.2],[13.697,-6.770,3.7],[13.709,-6.880,4.4],
  [13.720,-6.735,3.5],[13.727,-6.955,4.8],[13.738,-6.650,3.0],[13.744,-6.870,4.3],[13.756,-6.720,3.4],[13.760,-6.940,4.7],[13.772,-6.790,3.8],[13.781,-6.680,3.2],
  [13.788,-6.910,4.5],[13.797,-6.745,3.6],[13.806,-6.840,4.1],[13.816,-6.700,3.3],[13.820,-6.920,4.6],[13.833,-6.760,3.6],[13.838,-6.870,4.3],[13.849,-6.690,3.2],
  [13.856,-6.940,4.8],[13.864,-6.760,3.7],[13.870,-6.860,4.2],[13.880,-6.710,3.4],[13.886,-6.930,4.6],[13.899,-6.770,3.8],[13.903,-6.660,3.1],[13.915,-6.830,4.1],
  [13.920,-6.950,4.7],[13.933,-6.700,3.3],[13.939,-6.890,4.4],[13.951,-6.760,3.6],[13.957,-6.950,4.8],[13.963,-6.700,3.3],[13.972,-6.840,4.2],[13.980,-6.780,3.8],
  [13.986,-6.920,4.6],[13.995,-6.820,4.0],[13.999,-6.960,4.7],[13.990,-6.650,3.0],[13.617,-6.770,1.8],[13.765,-6.830,2.0],[13.897,-6.880,1.7],[13.702,-6.940,2.1],
  [13.941,-6.660,1.9],
];

const crowdMiddle = [
  [13.505,-7.060,5.0],[13.512,-7.340,6.5],[13.524,-7.090,5.2],[13.530,-7.210,6.0],[13.541,-7.400,7.0],[13.547,-7.080,5.0],[13.552,-7.310,6.4],[13.565,-7.240,5.8],
  [13.572,-7.080,5.1],[13.579,-7.420,7.2],[13.588,-7.290,6.2],[13.597,-7.090,5.0],[13.603,-7.220,5.9],[13.615,-7.330,6.6],[13.621,-7.070,4.8],[13.630,-7.260,6.1],
  [13.640,-7.390,7.0],[13.646,-7.190,5.6],[13.657,-7.080,5.0],[13.664,-7.310,6.4],[13.673,-7.230,5.9],[13.684,-7.060,4.9],[13.688,-7.400,7.1],[13.698,-7.280,6.2],
  [13.706,-7.090,5.1],[13.713,-7.350,6.8],[13.722,-7.220,5.8],[13.731,-7.060,4.8],[13.739,-7.290,6.3],[13.745,-7.410,7.3],[13.754,-7.100,5.2],[13.763,-7.250,6.0],
  [13.772,-7.360,6.9],[13.778,-7.080,5.0],[13.786,-7.230,5.9],[13.793,-7.300,6.4],[13.801,-7.090,5.1],[13.809,-7.400,7.4],[13.815,-7.250,6.1],[13.826,-7.080,5.0],
  [13.833,-7.330,6.7],[13.840,-7.230,5.9],[13.848,-7.110,5.3],[13.856,-7.280,6.2],[13.862,-7.420,7.5],[13.870,-7.090,5.1],[13.877,-7.260,6.0],[13.885,-7.350,6.8],
  [13.890,-7.110,5.3],[13.898,-7.230,5.9],[13.906,-7.410,7.3],[13.911,-7.100,5.2],[13.919,-7.250,6.0],[13.926,-7.340,6.7],[13.935,-7.090,5.1],[13.941,-7.280,6.3],
  [13.950,-7.420,7.4],[13.956,-7.120,5.4],[13.965,-7.260,6.1],[13.971,-7.380,7.0],[13.978,-7.070,4.9],[13.984,-7.310,6.5],[13.993,-7.210,5.8],[13.999,-7.400,7.2],
  [13.996,-7.130,5.4],[13.598,-7.360,2.2],[13.742,-7.180,1.9],[13.858,-7.200,2.3],[13.930,-7.430,2.0],[13.682,-7.430,2.5],[13.624,-7.410,9.3],[13.803,-7.350,9.0],
  [13.969,-7.430,9.5],[13.903,-7.300,8.8],
  [13.503,-7.520,7.5],[13.509,-7.700,8.8],[13.517,-7.880,9.5],[13.524,-7.560,6.8],[13.533,-7.960,7.2],[13.537,-7.640,8.2],[13.546,-7.800,9.0],[13.553,-7.500,6.5],
  [13.559,-7.700,8.0],[13.566,-7.920,9.6],[13.574,-7.580,7.0],[13.579,-7.800,8.5],[13.588,-7.480,6.2],[13.592,-7.650,7.6],[13.599,-7.900,9.2],[13.606,-7.560,6.8],
  [13.610,-7.760,8.3],[13.620,-7.970,9.7],[13.627,-7.600,7.2],[13.633,-7.710,4.5],[13.641,-7.490,6.3],[13.645,-7.840,8.8],[13.653,-7.560,7.0],[13.659,-7.950,9.4],
  [13.667,-7.650,7.7],[13.670,-7.800,8.6],[13.680,-7.480,6.2],[13.684,-7.880,9.1],[13.691,-7.620,7.4],[13.699,-7.700,3.0],[13.705,-7.520,6.6],[13.712,-7.970,9.6],
  [13.718,-7.720,8.0],[13.728,-7.490,6.3],[13.733,-7.860,9.0],[13.739,-7.570,7.0],[13.746,-7.960,9.8],[13.752,-7.680,7.9],[13.760,-7.470,6.0],[13.766,-7.830,8.7],
  [13.773,-7.610,7.3],[13.780,-7.930,9.5],[13.785,-7.520,6.6],[13.792,-7.720,8.1],[13.798,-7.880,9.1],[13.806,-7.560,6.9],[13.811,-7.980,9.7],[13.818,-7.700,8.0],
  [13.826,-7.480,6.2],[13.831,-7.620,2.5],[13.840,-7.900,9.3],[13.845,-7.720,8.2],[13.852,-7.520,6.5],[13.858,-7.960,9.6],[13.866,-7.640,7.5],[13.872,-7.820,8.8],
  [13.879,-7.500,6.3],[13.886,-7.700,8.0],[13.892,-7.920,9.4],[13.897,-7.580,7.0],[13.905,-7.780,8.5],[13.911,-7.480,6.2],[13.918,-7.960,9.7],[13.923,-7.640,7.6],
  [13.930,-7.840,8.9],[13.937,-7.540,6.7],[13.942,-7.720,3.5],[13.950,-7.880,9.1],[13.956,-7.600,7.2],[13.961,-7.470,6.1],[13.968,-7.820,8.7],[13.975,-7.620,7.4],
  [13.980,-7.980,9.8],[13.986,-7.540,6.8],[13.991,-7.760,8.3],[13.997,-7.900,9.2],[13.999,-7.580,7.0],[13.558,-7.620,3.0],[13.616,-7.880,2.2],[13.702,-7.580,3.8],
  [13.760,-7.750,2.4],[13.819,-7.910,4.0],[13.889,-7.780,2.8],[13.955,-7.690,3.2],[13.986,-7.860,2.6],[13.676,-7.990,4.3],[13.846,-7.480,4.6],
];

const crowdLower = [
  [13.504,-8.130,8.5],[13.511,-8.460,9.2],[13.520,-8.060,7.5],[13.528,-8.280,8.8],[13.535,-8.560,9.6],[13.541,-8.110,7.8],[13.549,-8.350,9.0],[13.556,-8.020,7.2],
  [13.563,-8.230,8.4],[13.569,-8.440,9.4],[13.577,-8.120,7.9],[13.583,-8.560,9.6],[13.590,-8.330,8.8],[13.597,-8.050,7.4],[13.604,-8.240,8.5],[13.611,-8.500,9.5],
  [13.617,-8.090,7.7],[13.625,-8.300,8.7],[13.632,-8.470,9.3],[13.639,-8.030,7.3],[13.645,-8.200,8.2],[13.652,-8.560,9.7],[13.659,-8.350,8.9],[13.666,-8.120,7.8],
  [13.673,-8.440,9.2],[13.679,-8.250,8.5],[13.686,-8.020,7.2],[13.693,-8.310,8.8],[13.700,-8.550,9.6],[13.706,-8.150,8.0],[13.714,-8.360,9.0],[13.720,-8.060,7.5],
  [13.727,-8.480,9.4],[13.734,-8.270,8.6],[13.741,-8.110,7.8],[13.748,-8.400,9.1],[13.754,-8.580,9.7],[13.761,-8.160,8.1],[13.769,-8.330,8.8],[13.775,-8.010,7.2],
  [13.782,-8.470,9.3],[13.789,-8.220,8.4],[13.796,-8.060,7.5],[13.803,-8.520,9.5],[13.810,-8.300,8.7],[13.817,-8.120,7.9],[13.824,-8.440,9.2],[13.831,-8.250,8.5],
  [13.837,-8.020,7.2],[13.844,-8.580,9.7],[13.851,-8.350,9.0],[13.858,-8.160,8.1],[13.865,-8.480,9.4],[13.872,-8.050,7.4],[13.878,-8.300,8.7],[13.884,-8.540,9.6],
  [13.891,-8.140,8.0],[13.898,-8.380,9.0],[13.905,-8.030,7.3],[13.912,-8.250,8.5],[13.919,-8.560,9.6],[13.925,-8.120,7.9],[13.932,-8.460,9.3],[13.939,-8.280,8.6],
  [13.946,-8.040,7.4],[13.952,-8.370,8.9],[13.959,-8.580,9.7],[13.966,-8.150,8.0],[13.973,-8.300,8.7],[13.979,-8.050,7.5],[13.986,-8.450,9.3],[13.992,-8.280,8.5],
  [13.998,-8.120,7.8],[13.999,-8.560,9.5],[13.530,-8.400,3.5],[13.602,-8.160,4.2],[13.655,-8.290,2.8],[13.713,-8.520,3.6],[13.764,-8.080,4.5],[13.833,-8.380,3.0],
  [13.871,-8.180,4.0],[13.925,-8.530,2.6],[13.968,-8.380,3.8],[13.996,-8.200,4.6],[13.741,-8.350,5.5],[13.889,-8.440,5.2],
  [13.506,-8.850,8.5],[13.518,-8.640,9.3],[13.527,-8.920,7.6],[13.540,-8.720,9.0],[13.551,-8.960,8.2],[13.562,-8.800,6.5],[13.573,-8.620,9.4],[13.589,-8.880,8.0],
  [13.598,-8.700,9.1],[13.611,-8.970,7.4],[13.620,-8.780,8.7],[13.636,-8.640,9.5],[13.648,-8.850,6.8],[13.660,-8.720,9.0],[13.672,-8.940,8.1],[13.686,-8.640,9.4],
  [13.697,-8.800,7.2],[13.712,-8.700,8.9],[13.728,-8.920,8.3],[13.737,-8.620,9.6],[13.750,-8.840,6.6],[13.764,-8.720,9.2],[13.779,-8.950,7.8],[13.792,-8.640,9.5],
  [13.805,-8.800,8.4],[13.817,-8.960,7.3],[13.830,-8.700,9.1],[13.847,-8.860,8.0],[13.858,-8.640,9.4],[13.871,-8.780,6.9],[13.883,-8.960,8.6],[13.896,-8.700,9.3],
  [13.909,-8.870,7.5],[13.922,-8.640,9.6],[13.935,-8.800,8.2],[13.948,-8.940,7.7],[13.960,-8.720,9.0],[13.972,-8.860,6.4],[13.985,-8.660,9.5],[13.997,-8.960,8.1],
  [13.580,-8.960,3.2],[13.705,-8.880,4.0],[13.838,-8.620,3.5],[13.915,-8.950,2.8],[13.978,-8.760,4.4],
  [13.512,-9.050,8.6],[13.525,-9.260,9.2],[13.552,-9.050,7.8],[13.563,-9.230,8.9],[13.580,-9.420,6.4],[13.596,-9.300,9.4],[13.634,-9.170,8.3],[13.640,-9.380,9.6],
  [13.672,-9.250,7.1],[13.682,-9.420,8.8],[13.712,-9.060,9.0],[13.713,-9.440,7.4],[13.742,-9.290,9.3],[13.757,-9.380,6.8],[13.785,-9.040,8.5],[13.800,-9.340,9.5],
  [13.811,-9.500,7.9],[13.837,-9.100,6.6],[13.860,-9.480,9.1],[13.868,-9.250,8.0],[13.889,-9.390,9.4],[13.908,-9.050,7.7],[13.928,-9.560,8.6],[13.944,-9.230,7.0],
  [13.961,-9.400,9.2],[13.975,-9.280,8.4],[13.993,-9.500,9.6],[13.996,-9.010,8.0],[13.528,-9.450,3.8],[13.621,-9.370,4.4],[13.700,-9.280,2.6],[13.776,-9.470,3.2],
  [13.852,-9.060,4.0],[13.939,-9.540,2.4],[13.985,-9.050,3.6],
];

// more points in the centre columns
const crowdCentre = [
  [13.205,-6.470,2.0],[13.222,-6.560,2.6],[13.238,-6.450,1.8],[13.253,-6.700,3.2],[13.268,-6.540,2.3],[13.281,-6.430,1.9],[13.295,-6.580,2.8],[13.309,-6.700,3.4],
  [13.323,-6.520,2.2],[13.337,-6.630,2.9],[13.343,-6.450,1.9],[13.357,-6.540,2.4],[13.368,-6.760,3.6],[13.378,-6.500,2.2],[13.389,-6.620,2.9],[13.398,-6.420,1.8],
  [13.418,-6.560,2.6],[13.425,-6.730,3.4],[13.436,-6.440,1.9],[13.445,-6.680,3.1],[13.462,-6.520,2.3],[13.470,-6.760,3.6],[13.480,-6.580,2.7],[13.489,-6.330,1.7],
  [13.499,-6.700,3.3],[13.452,-6.300,1.6],[13.419,-6.270,1.5],[13.345,-6.300,1.7],[13.298,-6.320,1.8],[13.228,-6.250,1.6],
  [13.205,-6.980,4.6],[13.218,-7.180,5.6],[13.232,-6.950,4.3],[13.246,-7.100,5.2],[13.259,-7.220,6.0],[13.270,-6.930,4.2],[13.281,-7.130,5.3],[13.296,-7.030,4.8],
  [13.303,-7.230,6.1],[13.315,-6.900,4.0],[13.326,-7.180,5.7],[13.334,-7.050,4.9],[13.341,-6.930,4.1],[13.352,-7.200,5.8],[13.358,-7.050,5.0],[13.369,-6.950,4.3],
  [13.377,-7.240,6.2],[13.388,-7.110,5.3],[13.397,-6.980,4.5],[13.414,-7.080,5.1],[13.421,-7.200,5.9],[13.433,-6.900,4.0],[13.446,-7.150,5.5],[13.455,-7.020,4.7],
  [13.465,-7.260,6.2],[13.474,-6.920,4.2],[13.486,-7.100,5.2],[13.493,-7.300,6.5],[13.500,-6.900,4.1],
  [13.202,-7.420,7.2],[13.210,-7.680,8.6],[13.221,-7.530,7.8],[13.232,-7.860,9.3],[13.244,-7.700,8.4],[13.251,-7.500,6.9],[13.265,-7.800,9.0],[13.271,-7.640,8.0],
  [13.284,-7.440,6.6],[13.288,-7.900,9.5],[13.297,-7.700,8.3],[13.310,-7.560,7.4],[13.318,-7.820,9.0],[13.329,-7.420,6.5],[13.333,-7.960,9.6],[13.344,-7.700,8.2],
  [13.352,-7.520,7.2],[13.361,-7.860,9.2],[13.371,-7.640,7.9],[13.381,-7.960,9.7],[13.385,-7.460,6.8],[13.398,-7.720,8.4],[13.404,-7.580,7.5],[13.416,-7.860,9.1],
  [13.423,-7.700,8.1],[13.434,-7.520,7.0],[13.445,-7.950,9.6],[13.452,-7.620,7.7],[13.462,-7.430,6.6],[13.468,-7.840,8.9],[13.480,-7.700,8.2],[13.488,-7.480,6.9],
  [13.495,-7.900,9.4],[13.500,-7.620,7.6],[13.256,-7.960,3.0],[13.313,-7.700,2.6],[13.392,-7.900,3.8],[13.447,-7.700,2.4],[13.276,-7.380,4.5],[13.485,-7.980,2.2],
  [13.202,-8.050,7.5],[13.226,-8.180,8.8],[13.240,-8.560,9.5],[13.256,-8.050,6.5],[13.270,-8.300,8.5],[13.283,-8.820,7.2],[13.296,-8.300,9.6],[13.312,-8.430,6.2],
  [13.322,-8.200,8.1],[13.336,-8.560,9.3],[13.352,-8.050,7.6],[13.365,-8.260,4.2],[13.378,-8.640,8.9],[13.390,-8.150,7.0],[13.410,-8.380,9.7],[13.422,-8.520,6.8],
  [13.436,-8.230,8.7],[13.448,-8.720,5.5],[13.462,-8.450,9.0],[13.470,-8.040,6.7],[13.485,-8.320,8.4],[13.497,-8.660,7.8],[13.352,-8.880,9.2],[13.425,-8.950,8.0],
];

const midLeft = [
  [13.008,-8.904,2.5],[13.016,-8.960,8.8],[13.018,-9.081,9.5],[13.025,-9.119,2.0],[13.031,-9.086,8.3],[13.043,-9.051,8.8],[13.053,-9.177,8.7],[13.014,-9.303,7.3],
  [13.030,-9.427,8.5],[13.062,-8.917,7.8],[13.060,-8.993,7.6],[13.070,-9.005,7.5],[13.074,-9.086,8.3],[13.082,-8.993,8.8],[13.089,-9.101,7.9],[13.084,-9.157,2.0],
  [13.093,-9.258,5.5],[13.093,-9.334,2.0],[13.108,-9.303,2.5],[13.073,-9.270,8.5],[13.068,-9.460,7.8],[13.074,-9.440,8.8],[13.101,-8.924,4.5],[13.107,-8.985,8.5],
  [13.121,-9.137,4.5],[13.129,-9.152,8.8],[13.113,-8.879,8.5],[13.138,-8.880,9.6],[13.153,-9.126,5.0],[13.159,-9.061,9.8],[13.162,-8.942,9.5],[13.172,-8.985,2.0],
  [13.174,-8.904,8.0],[13.183,-9.202,8.3],[13.183,-9.288,7.8],[13.176,-9.328,5.0],[13.138,-9.384,5.5],[13.139,-9.447,7.5],[13.155,-9.561,6.3],[13.169,-9.662,6.5],
  [13.199,-9.480,2.5],[13.211,-9.662,3.5],[13.223,-9.303,4.2],[13.228,-9.106,4.5],[13.233,-9.018,8.3],[13.257,-8.975,8.5],[13.260,-9.131,8.7],[13.264,-9.190,9.0],
  [13.094,-9.601,9.8],[13.107,-9.616,8.8],[13.104,-9.649,5.8],[13.122,-9.770,8.2],[13.120,-9.912,6.2],[13.004,-9.727,7.5],[13.005,-9.808,8.5],[13.008,-9.894,7.6],
  [13.032,-9.894,9.9],[13.054,-9.871,4.5],[13.054,-9.823,9.5],[13.164,-9.897,9.7],[13.198,-9.993,9.9],[13.221,-9.955,4.3],[13.252,-10.134,7.6],[13.122,-10.250,5.5],
  [13.116,-10.339,8.5],[13.228,-10.303,9.9],[13.189,-10.445,9.0],[13.259,-10.422,7.8],[13.292,-9.366,9.5],[13.302,-9.359,9.6],[13.298,-9.005,2.2],[13.312,-8.924,2.3],
  [13.311,-9.187,8.7],[13.313,-9.291,2.0],[13.326,-9.043,4.3],[13.335,-8.980,7.5],[13.336,-9.137,7.5],[13.325,-9.187,7.6],[13.339,-9.258,7.6],[13.350,-9.232,7.5],
  [13.350,-8.930,7.8],[13.343,-9.025,9.5],[13.355,-9.144,9.6],[13.362,-9.094,1.8],[13.353,-9.341,9.5],[13.363,-9.404,2.8],[13.365,-9.455,5.2],[13.360,-8.929,8.5],
  [13.376,-8.955,5.2],[13.319,-9.460,8.7],[13.301,-9.541,9.4],[13.334,-9.556,7.8],[13.304,-9.679,6.0],[13.287,-9.780,7.5],[13.297,-9.793,7.3],[13.356,-9.750,5.5],
  [13.379,-9.919,4.5],[13.375,-9.952,8.5],[13.334,-9.995,8.5],[13.367,-10.036,8.2],[13.373,-10.084,8.0],[13.391,-9.543,9.3],[13.311,-10.351,5.2],[13.339,-10.301,6.2],
  [13.366,-10.268,7.6],[13.359,-10.407,4.2],[13.408,-9.101,7.3],[13.398,-9.200,5.2],[13.405,-9.270,8.6],[13.402,-9.323,6.0],[13.408,-9.359,5.8],[13.426,-9.023,8.5],
  [13.422,-9.157,8.4],[13.432,-9.215,8.3],[13.443,-9.144,9.8],[13.449,-9.157,5.5],[13.458,-9.094,9.2],[13.456,-8.993,7.6],[13.444,-9.030,5.8],[13.447,-8.955,5.6],
  [13.477,-9.000,8.3],[13.478,-9.232,4.3],[13.450,-9.536,7.8],[13.470,-9.498,6.0],[13.465,-9.586,4.5],[13.472,-9.611,7.4],[13.466,-9.674,9.0],[13.489,-9.530,7.8],
  [13.487,-9.624,9.6],[13.495,-9.737,4.5],[13.498,-9.838,9.7],[13.502,-9.940,6.2],[13.432,-9.864,8.2],[13.444,-9.965,6.3],[13.450,-10.048,8.5],[13.413,-10.041,8.3],
  [13.422,-10.066,5.3],[13.461,-10.154,8.2],[13.490,-10.187,6.3],[13.502,-9.232,8.7],[13.499,-9.303,4.5],[13.502,-9.503,9.5],
];

const midRight = [
  [13.531,-8.975,1.5],[13.535,-9.094,8.2],[13.548,-8.942,9.3],[13.571,-9.101,3.5],[13.571,-8.909,2.5],[13.587,-8.929,8.7],[13.598,-9.030,7.8],[13.591,-9.131,7.6],
  [13.609,-9.152,9.8],[13.618,-9.030,8.5],[13.628,-9.094,8.6],[13.618,-9.238,5.8],[13.612,-9.283,8.8],[13.603,-9.359,4.5],[13.612,-9.435,8.5],[13.607,-9.490,8.5],
  [13.592,-9.536,8.5],[13.584,-9.498,5.5],[13.576,-9.599,9.0],[13.577,-9.637,7.5],[13.572,-9.737,1.3],[13.589,-9.743,9.5],[13.559,-9.561,5.0],[13.541,-9.561,6.3],
  [13.566,-9.354,4.5],[13.557,-9.397,7.3],[13.538,-9.354,6.5],[13.527,-9.384,7.4],[13.510,-9.111,7.8],[13.506,-9.232,8.5],[13.513,-9.207,8.5],[13.517,-9.334,8.5],
  [13.502,-9.308,5.2],[13.503,-9.498,9.7],[13.499,-9.838,9.6],[13.504,-9.940,6.3],[13.542,-9.934,8.0],[13.578,-9.914,5.3],[13.574,-10.015,9.3],[13.613,-9.725,6.3],
  [13.630,-9.877,8.8],[13.619,-9.977,9.3],[13.644,-9.902,8.8],[13.649,-9.914,4.3],[13.660,-9.889,7.6],[13.642,-9.775,9.3],[13.665,-9.801,7.8],[13.669,-9.743,2.0],
  [13.678,-9.700,9.3],[13.686,-9.649,8.0],[13.695,-9.561,9.5],[13.688,-9.586,8.8],[13.662,-9.616,8.7],[13.650,-9.581,5.6],[13.652,-9.692,6.2],[13.655,-9.440,4.3],
  [13.691,-9.465,3.5],[13.665,-9.308,8.7],[13.648,-9.232,9.6],[13.641,-9.258,5.5],[13.656,-9.131,9.5],[13.648,-9.056,7.6],[13.665,-9.068,4.3],[13.674,-8.935,2.6],
  [13.686,-8.980,7.8],[13.696,-9.131,5.3],[13.679,-9.157,7.8],[13.688,-9.258,8.6],[13.697,-8.909,6.0],[13.707,-9.182,9.5],[13.722,-8.980,1.7],[13.727,-9.035,1.8],
  [13.739,-9.030,5.5],[13.718,-9.169,7.5],[13.731,-9.207,8.7],[13.722,-9.346,9.5],[13.735,-9.384,3.5],[13.729,-9.510,8.0],[13.732,-9.649,8.5],[13.746,-9.548,6.2],
  [13.746,-9.649,6.5],[13.748,-9.743,8.5],[13.743,-9.846,9.2],[13.724,-9.851,9.8],[13.708,-9.788,9.3],[13.702,-9.838,8.8],[13.701,-9.914,8.5],[13.716,-10.003,4.3],
  [13.728,-10.036,9.2],[13.746,-9.990,3.8],[13.755,-9.472,8.8],[13.768,-9.536,9.3],[13.766,-9.624,8.5],[13.767,-9.801,7.8],[13.778,-9.826,5.0],[13.788,-9.869,4.3],
  [13.791,-9.750,5.0],[13.787,-9.631,8.8],[13.804,-9.733,9.9],[13.795,-9.283,8.5],[13.783,-9.422,8.7],[13.805,-9.430,2.8],[13.768,-9.346,6.0],[13.763,-9.245,1.8],
  [13.777,-9.238,1.5],[13.770,-9.106,1.5],[13.789,-9.182,2.0],[13.810,-9.202,5.5],[13.800,-9.056,9.3],[13.782,-8.929,9.6],[13.793,-8.892,2.0],[13.824,-9.061,9.7],
  [13.827,-9.207,8.0],[13.826,-9.371,5.5],[13.828,-9.490,3.8],[13.819,-9.541,7.8],[13.831,-9.637,3.0],[13.830,-9.700,3.0],[13.833,-9.838,9.0],[13.831,-9.965,5.0],
  [13.840,-10.121,9.0],[13.816,-9.371,9.6],[13.840,-9.177,2.5],[13.851,-9.258,9.7],[13.846,-9.068,8.8],[13.865,-9.144,8.8],[13.872,-9.346,9.5],[13.857,-9.447,3.0],
  [13.844,-9.548,4.0],[13.849,-9.637,6.0],[13.862,-9.599,7.8],[13.878,-9.561,8.7],[13.881,-9.725,3.5],[13.880,-9.909,9.8],[13.885,-9.940,6.0],[13.876,-10.046,9.9],
  [13.889,-10.046,9.8],[13.856,-9.990,7.8],[13.854,-9.965,7.6],[13.879,-9.068,9.4],[13.892,-9.144,7.8],[13.900,-9.371,8.7],[13.895,-9.296,2.8],[13.914,-9.321,2.8],
  [13.904,-9.422,8.7],[13.915,-9.498,7.8],[13.896,-9.611,4.0],[13.918,-9.632,2.6],[13.917,-9.700,5.5],[13.920,-9.801,7.8],[13.934,-9.826,8.5],[13.936,-9.725,8.5],
  [13.905,-9.851,1.6],[13.923,-9.220,9.0],[13.922,-9.157,5.5],[13.936,-9.106,5.3],[13.938,-9.334,8.6],[13.934,-9.485,9.6],[13.950,-9.447,8.7],[13.948,-9.611,7.8],
  [13.955,-9.750,4.0],[13.966,-9.889,8.7],[13.964,-9.586,9.8],[13.977,-9.687,6.3],[13.982,-9.763,8.5],[13.985,-9.510,9.2],[13.992,-9.422,6.0],[13.987,-9.346,1.6],
  [13.999,-9.581,6.3],[14.000,-9.207,3.8],[13.962,-9.194,9.8],[13.978,-9.169,8.6],[13.980,-9.131,3.5],[13.957,-9.043,2.5],[13.968,-9.043,5.5],[13.994,-9.094,9.3],
  [13.998,-8.955,7.5],[13.934,-8.980,4.0],[13.920,-9.005,5.3],[13.899,-8.967,5.5],[13.980,-10.028,9.6],[13.973,-10.041,8.5],[13.985,-10.154,7.6],[13.999,-10.116,4.0],
  [13.932,-10.078,7.4],[13.920,-10.323,9.8],[13.928,-10.381,9.8],[13.905,-10.407,6.3],[13.955,-10.369,5.2],[13.858,-10.381,6.0],[13.849,-10.343,7.5],[13.839,-10.432,6.0],
  [13.830,-10.275,6.5],[13.796,-10.116,8.5],[13.799,-10.167,8.0],[13.803,-10.243,8.5],[13.793,-10.293,7.6],[13.792,-10.399,9.9],[13.787,-10.369,6.2],[13.787,-10.041,6.0],
  [13.774,-10.212,5.2],[13.764,-10.364,5.2],[13.760,-10.457,3.0],[13.752,-10.273,6.3],[13.745,-10.306,7.6],[13.723,-10.255,6.5],[13.697,-10.331,6.2],[13.636,-10.356,5.2],
  [13.619,-10.212,6.0],[13.589,-10.172,5.5],[13.584,-10.255,8.5],[13.570,-10.273,8.5],[13.578,-10.399,3.0],[13.587,-10.424,7.5],[13.603,-10.419,6.3],[13.538,-10.243,8.4],
  [13.495,-10.192,7.5],
];

const lowTail = [
  [13.041,-10.591,9.5],[13.173,-10.601,9.7],[13.262,-10.591,8.0],[13.496,-10.611,8.3],[13.274,-10.886,8.8],[13.007,-11.070,8.2],[13.429,-11.106,5.4],[13.436,-11.141,8.6],
  [13.082,-11.518,8.7],[13.156,-11.394,9.6],[13.303,-11.480,7.8],[13.545,-10.914,9.2],[13.586,-11.159,4.5],[13.593,-11.121,7.4],[13.616,-10.949,9.7],[13.630,-10.992,1.5],
  [13.652,-10.985,3.8],[13.760,-11.100,5.2],[13.824,-11.058,5.3],[13.945,-11.081,8.0],[13.978,-10.927,6.2],[13.828,-11.366,8.8],[13.766,-11.609,9.8],[13.759,-11.689,9.7],
  [13.861,-11.866,9.8],[13.934,-11.853,5.2],[13.961,-11.936,8.0],[13.983,-11.626,9.9],[13.633,-12.687,9.9],[13.655,-13.109,4.2],[13.909,-12.640,5.2],[13.959,-12.927,9.9],
  [13.611,-10.657,8.5],[13.617,-10.636,7.6],[13.636,-10.624,9.3],[13.680,-10.684,9.4],[13.680,-10.848,7.5],[13.742,-10.692,9.8],[13.751,-10.722,5.0],[13.774,-10.664,9.6],
  [13.781,-10.654,7.6],[13.807,-10.722,2.5],[13.811,-10.601,9.6],[13.815,-10.581,5.2],[13.877,-10.545,9.7],[13.916,-10.545,7.6],[13.937,-10.570,9.2],[13.955,-10.705,3.3],
  [13.985,-10.659,9.6],[13.985,-10.684,6.2],[13.987,-10.760,8.6],[13.992,-10.596,4.0],
];

const xTicks = [1e13, 1e14];
const xTickExp = ["13", "14"];
const yTicks = [1e-6, 1e-7, 1e-8, 1e-9, 1e-10, 1e-11, 1e-12, 1e-13];
const yTickExp = ["−6", "−7", "−8", "−9", "−10", "−11", "−12", "−13"];
const cbarTicks = [2, 3, 4, 5, 6, 7, 8, 9];

const S_MIN = 0.99;
const S_MAX = 9.99;

const W = 1731;
const H = 1348;
const L = 256, R = 1446, T = 80, B = 1190;
const CB_L = 1521, CB_R = 1577;
const FONT = "DejaVu Sans, Verdana, sans-serif";

// matplotlib "spring": (1, t, 1 - t)
const spring = (s: number) => {
  const t = Math.max(0, Math.min(1, (s - S_MIN) / (S_MAX - S_MIN)));
  return d3.rgb(255, 255 * t, 255 * (1 - t)).formatHex();
};

export default function App() {
  const x = d3.scaleLog().domain([Math.pow(10, 12.95), Math.pow(10, 14.05)]).range([L, R]);
  const y = d3.scaleLog().domain([Math.pow(10, -13.5), Math.pow(10, -5.0909)]).range([B, T]);
  const cy = d3.scaleLinear().domain([S_MIN, S_MAX]).range([B, T]);

  // interleave the groups so that no colour band always sits on top
  const groups = [upperLeft, crowdTop, midLeft, upperRight, crowdMiddle, crowdCentre, midRight, crowdLower, lowTail];
  const points: number[][] = [];
  const longest = d3.max(groups, (g) => g.length) ?? 0;
  for (let i = 0; i < longest; i++) {
    for (const g of groups) if (i < g.length) points.push(g[i]);
  }

  const yMinor: number[] = [];
  for (let k = -14; k <= -5; k++) {
    for (let m = 2; m <= 9; m++) {
      const v = m * Math.pow(10, k);
      const py = y(v);
      if (py >= T - 0.5 && py <= B) yMinor.push(v);
    }
  }
  const xMinor: number[] = [];
  for (let k = 12; k <= 14; k++) {
    for (let m = 2; m <= 9; m++) {
      const v = m * Math.pow(10, k);
      const px = x(v);
      if (px >= L && px <= R) xMinor.push(v);
    }
  }

  return (
    <svg width={W} height={H} style={{ position: "absolute", left: 0, top: 0, background: "#fff" }} fontFamily={FONT}>
      <defs>
        <linearGradient id="springGrad" x1="0" y1="1" x2="0" y2="0">
          <stop offset="0%" stopColor={spring(S_MIN)} />
          <stop offset="100%" stopColor={spring(S_MAX)} />
        </linearGradient>
        <clipPath id="plotClip">
          <rect x={L} y={T} width={R - L} height={B - T} />
        </clipPath>
      </defs>

      <g clipPath="url(#plotClip)">
        {points.map((p, i) => (
          <circle key={i} cx={x(Math.pow(10, p[0]))} cy={y(Math.pow(10, p[1]))} r={8.6} fill={spring(p[2])} />
        ))}
      </g>

      {/* grid */}
      <g stroke="#b0b0b0" strokeWidth={1.6} strokeDasharray="6,2.6">
        {xTicks.map((v) => (
          <line key={"gx" + v} x1={x(v)} x2={x(v)} y1={T} y2={B} />
        ))}
        {yTicks.map((v) => (
          <line key={"gy" + v} x1={L} x2={R} y1={y(v)} y2={y(v)} />
        ))}
      </g>

      {/* ticks */}
      <g stroke="#000" strokeWidth={2.6}>
        {xTicks.map((v) => (
          <g key={"tx" + v}>
            <line x1={x(v)} x2={x(v)} y1={B} y2={B - 15} />
            <line x1={x(v)} x2={x(v)} y1={T} y2={T + 15} />
          </g>
        ))}
        {yTicks.map((v) => (
          <g key={"ty" + v}>
            <line x1={L} x2={L + 15} y1={y(v)} y2={y(v)} />
            <line x1={R} x2={R - 15} y1={y(v)} y2={y(v)} />
          </g>
        ))}
      </g>
      <g stroke="#000" strokeWidth={2}>
        {yMinor.map((v) => (
          <line key={"my" + v} x1={L} x2={L - 8} y1={y(v)} y2={y(v)} />
        ))}
        {xMinor.map((v) => (
          <line key={"mx" + v} x1={x(v)} x2={x(v)} y1={B} y2={B + 7} />
        ))}
      </g>

      <rect x={L} y={T} width={R - L} height={B - T} fill="none" stroke="#000" strokeWidth={2.8} />

      {/* tick labels */}
      {xTicks.map((v, i) => (
        <text key={"lx" + v} x={x(v)} y={1242} textAnchor="middle" fontSize={44} fill="#000">
          <tspan>10</tspan>
          <tspan dx={2} dy={-19} fontSize={32}>{xTickExp[i]}</tspan>
        </text>
      ))}
      {yTicks.map((v, i) => (
        <text key={"ly" + v} x={241} y={y(v) + 18} textAnchor="end" fontSize={44} fill="#000">
          <tspan>10</tspan>
          <tspan dx={2} dy={-19} fontSize={32}>{yTickExp[i]}</tspan>
        </text>
      ))}

      {/* axis labels */}
      <text x={(L + R) / 2} y={1316} textAnchor="middle" fontSize={49} fill="#000">
        <tspan fontStyle="italic">M</tspan>
        <tspan>{" (eV)"}</tspan>
      </text>
      <text transform={`translate(77,${(T + B) / 2}) rotate(-90)`} textAnchor="middle" fontSize={49} fill="#000">
        <tspan fontStyle="italic">Sin</tspan>
        <tspan dx={2} dy={-19} fontSize={34}>2</tspan>
        <tspan dx={6} dy={19}>2</tspan>
        <tspan fontStyle="italic">θ</tspan>
        <tspan dy={9} fontSize={34} fontStyle="italic">DM</tspan>
      </text>

      {/* colorbar */}
      <rect x={CB_L} y={T} width={CB_R - CB_L} height={B - T} fill="url(#springGrad)" stroke="#000" strokeWidth={2.6} />
      <g stroke="#000" strokeWidth={2.6}>
        {cbarTicks.map((v) => (
          <line key={"ct" + v} x1={CB_R} x2={CB_R + 14} y1={cy(v)} y2={cy(v)} />
        ))}
      </g>
      {cbarTicks.map((v) => (
        <text key={"cl" + v} x={1607} y={cy(v) + 15} fontSize={42} fill="#000">
          {v}
        </text>
      ))}
      <text x={CB_R} y={68} textAnchor="end" fontSize={45} fill="#000">
        1e8
      </text>
      <text transform={`translate(1698,${(T + B) / 2}) rotate(-90)`} textAnchor="middle" fontSize={49} fontStyle="italic" fill="#000">
        s
      </text>
    </svg>
  );
}
